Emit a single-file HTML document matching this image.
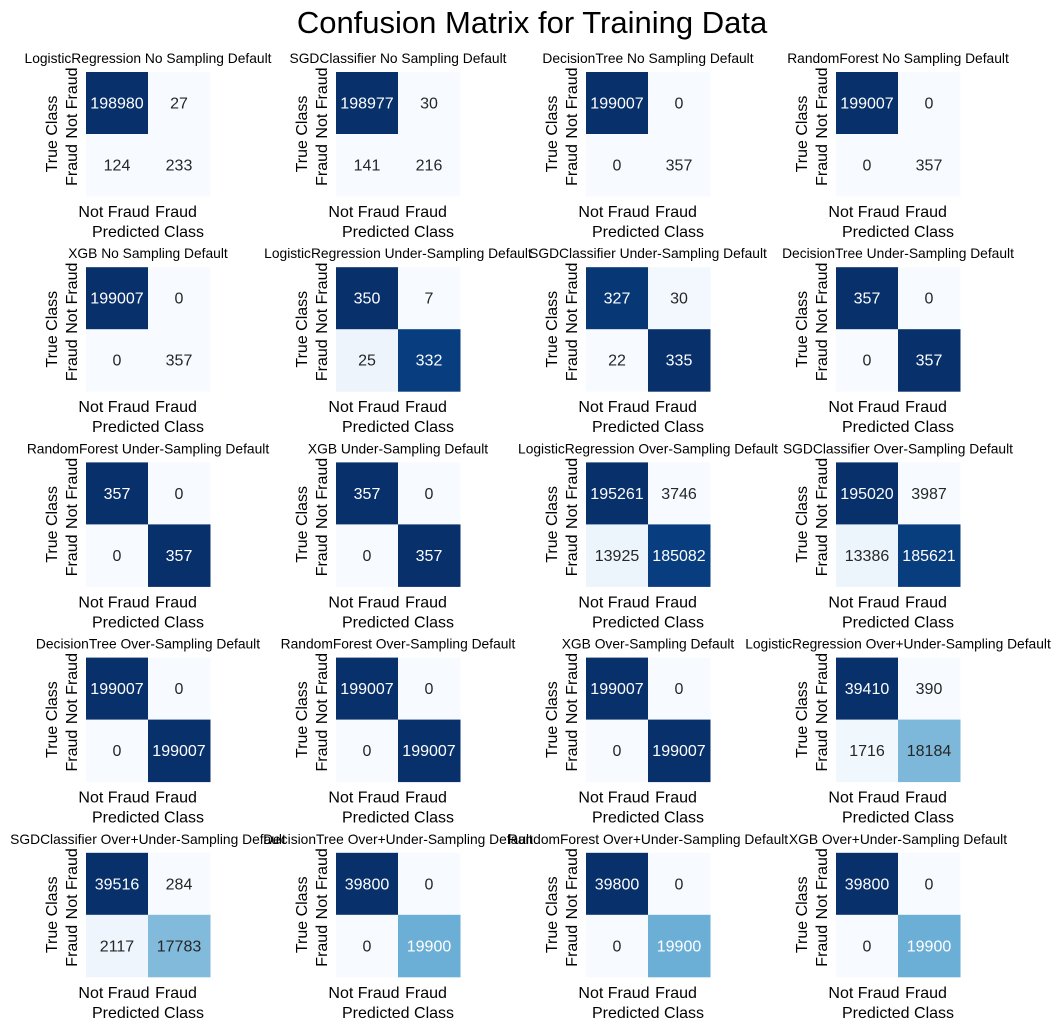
<!DOCTYPE html>
<html><head><meta charset="utf-8"><style>
body{margin:0;background:#fff;}
svg{display:block;font-family:"Liberation Sans",sans-serif;}
</style></head><body>
<svg id="chart" width="1061" height="1031" viewBox="0 0 1061 1031">
<text x="532" y="33" text-anchor="middle" font-size="31" fill="#000">Confusion Matrix for Training Data</text>
</svg>
<script>
const titles = [
"LogisticRegression No Sampling Default","SGDClassifier No Sampling Default","DecisionTree No Sampling Default","RandomForest No Sampling Default",
"XGB No Sampling Default","LogisticRegression Under-Sampling Default","SGDClassifier Under-Sampling Default","DecisionTree Under-Sampling Default",
"RandomForest Under-Sampling Default","XGB Under-Sampling Default","LogisticRegression Over-Sampling Default","SGDClassifier Over-Sampling Default",
"DecisionTree Over-Sampling Default","RandomForest Over-Sampling Default","XGB Over-Sampling Default","LogisticRegression Over+Under-Sampling Default",
"SGDClassifier Over+Under-Sampling Default","DecisionTree Over+Under-Sampling Default","RandomForest Over+Under-Sampling Default","XGB Over+Under-Sampling Default"];
const matrices = [
[198980,27,124,233],[198977,30,141,216],[199007,0,0,357],[199007,0,0,357],
[199007,0,0,357],[350,7,25,332],[327,30,22,335],[357,0,0,357],
[357,0,0,357],[357,0,0,357],[195261,3746,13925,185082],[195020,3987,13386,185621],
[199007,0,0,199007],[199007,0,0,199007],[199007,0,0,199007],[39410,390,1716,18184],
[39516,284,2117,17783],[39800,0,0,19900],[39800,0,0,19900],[39800,0,0,19900]];
const classLabels = ["Not Fraud","Fraud"];

const stops=["#f7fbff","#deebf7","#c6dbef","#9ecae1","#6baed6","#4292c6","#2171b5","#08519c","#08306b"];
function hex(h){return [1,3,5].map(i=>parseInt(h.substr(i,2),16));}
function blues(t){t=Math.max(0,Math.min(1,t));const p=t*8,i=Math.min(7,Math.floor(p)),f=p-i;
 const a=hex(stops[i]),b=hex(stops[i+1]);return a.map((v,k)=>Math.round(v+(b[k]-v)*f));}
function lum(c){const l=c.map(v=>{v/=255;return v<=0.03928?v/12.92:Math.pow((v+0.055)/1.055,2.4);});return 0.2126*l[0]+0.7152*l[1]+0.0722*l[2];}

const svg=document.getElementById('chart');
const NS="http://www.w3.org/2000/svg";
function mk(tag,attrs,parent){const e=document.createElementNS(NS,tag);for(const k in attrs)e.setAttribute(k,attrs[k]);parent.appendChild(e);return e;}
const x0=86,dx=250,y0=72,dy=195.2,S=124,C=S/2;
matrices.forEach((m,idx)=>{
 const col=idx%4,row=Math.floor(idx/4);
 const gx=x0+col*dx,gy=y0+row*dy;
 const g=mk('g',{},svg);
 
 
 const t=mk('text',{x:gx+C,y:gy-9,'text-anchor':'middle','font-size':13.8,fill:'#000'},g);
 t.textContent=titles[idx];
 
 
 const mn=Math.min(...m),mx=Math.max(...m);
 m.forEach((v,k)=>{
  const r=Math.floor(k/2),c=k%2;
  const col3=blues((v-mn)/(mx-mn||1));
  const rc=mk('rect',{x:gx+c*C,y:gy+r*C,width:C+0.5,height:C+0.5,fill:`rgb(${col3.join(',')})`},g);
  
  
  const tx=mk('text',{x:gx+c*C+C/2,y:gy+r*C+C/2+5.5,'text-anchor':'middle','font-size':16,fill:lum(col3)>0.408?'#262626':'#ffffff'},g);
  tx.textContent=v;
  
  
 });
 classLabels.forEach((lab,i)=>{
  const yl=mk('text',{transform:`translate(${gx-9},${gy+i*C+C/2}) rotate(-90)`,'text-anchor':'middle','font-size':16,fill:'#000'},g);
  yl.textContent=lab;
  
  
  const xl=mk('text',{x:gx+i*C+C/2-3,y:gy+S+21,'text-anchor':'middle','font-size':16,fill:'#000'},g);
  xl.textContent=lab;
  
  
 });
 const yt=mk('text',{transform:`translate(${gx-29},${gy+C}) rotate(-90)`,'text-anchor':'middle','font-size':16,fill:'#000'},g);
 yt.textContent='True Class';
 
 
 const xt=mk('text',{x:gx+C,y:gy+S+41,'text-anchor':'middle','font-size':16,fill:'#000'},g);
 xt.textContent='Predicted Class';
 
 
});
</script>
</body></html>
